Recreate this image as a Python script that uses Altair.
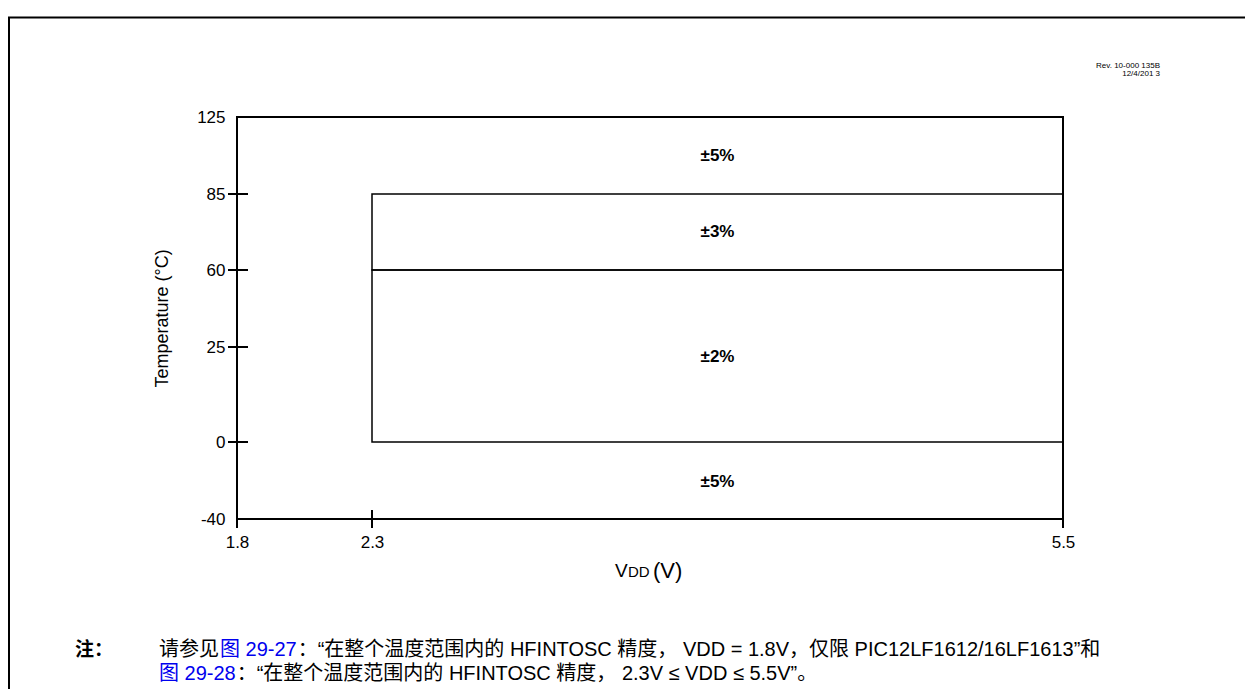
import altair as alt
import pandas as pd

# ---- axis values ----
vdd_ticks = [1.8, 2.3, 5.5]
temp_ticks = [-40, 0, 25, 60, 85, 125]
temp_cross_ticks = [0, 25, 60, 85]

# ---- accuracy zones ----
zone_label = ["±5%", "±3%", "±2%", "±5%"]
zone_vmin = [2.3, 2.3, 2.3, 2.3]
zone_vmax = [5.5, 5.5, 5.5, 5.5]
zone_tmin = [85, 60, 0, -40]
zone_tmax = [125, 85, 60, 0]
zone_boxed = [False, True, True, False]
zone_label_v = [3.9, 3.9, 3.9, 3.9]        # label anchor (V)
zone_label_t = [105, 72.5, 22.5, -21]      # label anchor (°C)

# ---- texts ----
rev_lines = ["Rev. 10-000 135B", "12/4/201 3"]
y_title = "Temperature (°C)"
x_title_parts = ["V", "DD", "(V)"]
note_head = "注："
note_line1 = ["请参见", "图 29-27", "：“在整个温度范围内的 HFINTOSC 精度， VDD = 1.8V，仅限 PIC12LF1612/16LF1613”和"]
note_line2 = ["图 29-28", "：“在整个温度范围内的 HFINTOSC 精度， 2.3V ≤ VDD ≤ 5.5V”。"]
note_colors1 = ["black", "#0000ee", "black"]
note_colors2 = ["#0000ee", "black"]

FONT = "Liberation Sans, Noto Sans CJK SC"
W, H = 826, 402
NOTE_SIZE = 20

# rough Arial advance widths (em) used to place consecutive text runs
_AW = {" ": .278, "-": .333, ".": .278, "/": .278, "=": .584, "≤": .549, "“": .333, "”": .333,
       "H": .722, "F": .611, "I": .278, "N": .722, "T": .611, "O": .778, "S": .667, "C": .722,
       "V": .667, "D": .722, "P": .667, "L": .556}

def text_width(s, size):
    w = 0.0
    for ch in s:
        if ch.isdigit():
            w += .556
        elif ch in _AW:
            w += _AW[ch]
        elif ord(ch) > 0x2E80:
            w += 1.0
        else:
            w += .556
    return w * size

zones = pd.DataFrame(dict(label=zone_label, v1=zone_vmin, v2=zone_vmax,
                          t1=zone_tmin, t2=zone_tmax, boxed=zone_boxed,
                          vm=zone_label_v, tm=zone_label_t))

xs = alt.Scale(domain=vdd_ticks, range=[0, 135, W], nice=False, zero=False)
ys = alt.Scale(domain=temp_ticks, range=[H, 325, 230, 153, 77, 0], nice=False, zero=False)

x_axis = alt.Axis(values=vdd_ticks, format=".1f", ticks=False, tickSize=0, domain=False,
                  grid=False, labelFontSize=17, labelPadding=15, labelFont=FONT,
                  labelColor="black", labelFlush=False, labelOverlap=False, title=None)
y_axis = alt.Axis(values=temp_ticks, labelExpr="toString(datum.value)", ticks=False, tickSize=0,
                  domain=False, grid=False, labelFontSize=17, labelPadding=12, labelFont=FONT,
                  labelColor="black", labelFlush=False, labelOverlap=False,
                  title=y_title, titleFont=FONT, titleFontSize=18, titleFontWeight="normal",
                  titleColor="black", titlePadding=25)

boxes = alt.Chart(zones).transform_filter("datum.boxed").mark_rect(
    fill="transparent", stroke="black", strokeWidth=1.5
).encode(
    x=alt.X("v1:Q", scale=xs, axis=x_axis),
    x2="v2",
    y=alt.Y("t1:Q", scale=ys, axis=y_axis),
    y2="t2",
)

zone_text = alt.Chart(zones).mark_text(
    font=FONT, fontSize=17, fontWeight="bold", color="black"
).encode(
    x=alt.X("vm:Q", scale=xs), y=alt.Y("tm:Q", scale=ys), text="label:N"
)

ytick_df = pd.DataFrame({"t": temp_cross_ticks})
ytk = alt.Chart(ytick_df).mark_rule(color="black", strokeWidth=2).encode(
    y=alt.Y("t:Q", scale=ys), x=alt.value(-9), x2=alt.value(11)
)
xtick_df = pd.DataFrame({"v": vdd_ticks})
xtk = alt.Chart(xtick_df).mark_rule(color="black", strokeWidth=2).encode(
    x=alt.X("v:Q", scale=xs), y=alt.value(H - 9), y2=alt.value(H + 9)
)

dummy = pd.DataFrame({"a": [0]})

def label(text, x, y, **kw):
    params = dict(font=FONT, color="black", align="left", baseline="middle")
    params.update(kw)
    return alt.Chart(dummy).mark_text(text=text, **params).encode(
        x=alt.value(x), y=alt.value(y))

frame = alt.Chart(dummy).mark_rect(fill="transparent", stroke="black", strokeWidth=2).encode(
    x=alt.value(-228), x2=alt.value(1100), y=alt.value(-99.5), y2=alt.value(800)
)

texts = [
    label(rev_lines[0], 923, -51, fontSize=8, align="right"),
    label(rev_lines[1], 923, -43, fontSize=8, align="right"),
    label(x_title_parts[0], 378, 460, fontSize=19, baseline="alphabetic"),
    label(x_title_parts[1], 391, 460, fontSize=15, baseline="alphabetic"),
    label(x_title_parts[2], 416, 461, fontSize=22, baseline="alphabetic"),
    label(note_head, -162, 533, fontSize=19, fontWeight="bold"),
]

def note_runs(parts, colors, x0, y):
    out = []
    x = x0
    for s, c in zip(parts, colors):
        out.append(label(s, x, y, fontSize=NOTE_SIZE, color=c))
        x += text_width(s, NOTE_SIZE) + 1
    return out

texts += note_runs(note_line1, note_colors1, -78, 533)
texts += note_runs(note_line2, note_colors2, -78, 557)

chart = alt.layer(boxes, frame, ytk, xtk, zone_text, *texts).properties(
    width=W, height=H,
    autosize=alt.AutoSizeParams(type="none"),
    padding={"left": 229, "top": 109, "right": 182, "bottom": 170},
    background="white",
).configure_view(stroke="black", strokeWidth=2)

chart.save("out.html", embed_options={"renderer": "svg", "actions": False})
